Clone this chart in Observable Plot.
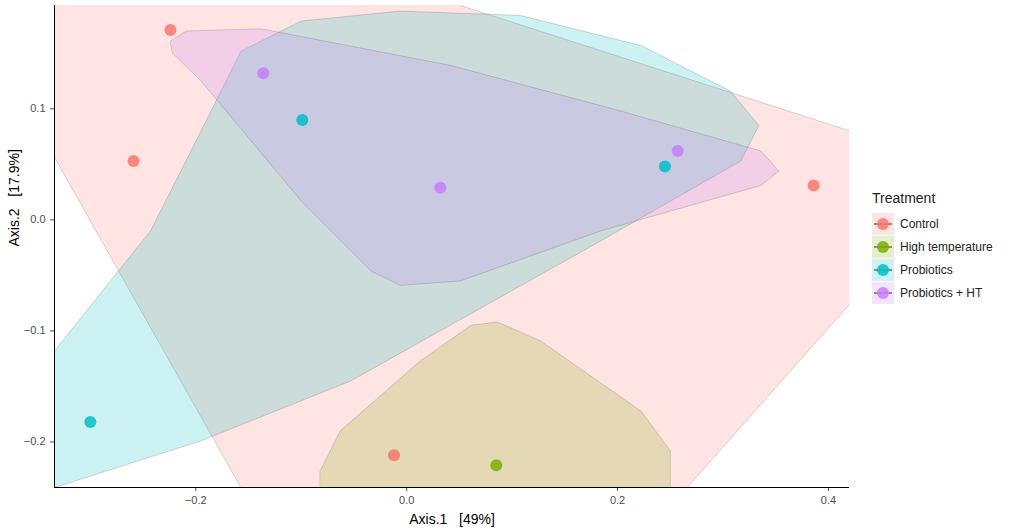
<!DOCTYPE html>
<html><head><meta charset="utf-8">
<script src="https://cdn.jsdelivr.net/npm/d3@7"></script>
<script src="https://cdn.jsdelivr.net/npm/@observablehq/plot@0.6"></script>
<style>
body{margin:0;font-family:"Liberation Sans",Arial,sans-serif;background:#fff}
#wrap{position:relative;width:1013px;height:531px}
#legend{position:absolute;left:872px;top:190px;font-size:12px;color:#222}
#legend .t{font-size:14px;margin-bottom:6px}
#legend .row{display:flex;align-items:center;height:23px}
#legend svg{margin-right:6px}
</style></head><body>
<div id="wrap"><div id="chart"></div><div id="legend"></div></div>
<script>
const groups = ['Control', 'High temperature', 'Probiotics', 'Probiotics + HT']
const colors = ['#F8766D', '#7CAE00', '#00BFC4', '#C77CFF']

// sample points (Axis.1, Axis.2)
const controlPts = [[-0.224, 0.171], [-0.259, 0.053], [0.386, 0.031], [-0.012, -0.212]]
const htPts = [[0.085, -0.221]]
const probPts = [[-0.099, 0.090], [0.245, 0.048], [-0.300, -0.182]]
const probHtPts = [[-0.136, 0.132], [0.257, 0.062], [0.032, 0.029]]

// ellipse outlines
const controlHull = [[0.051,0.193],[0.45,0.071],[0.45,-0.044],[0.239,-0.27],[-0.14,-0.27],[-0.36,0.10],[-0.36,0.22],[0.03,0.22]]
const probHull = [[-0.334,-0.118],[-0.243,-0.010],[-0.195,0.080],[-0.157,0.152],[-0.100,0.179],[-0.006,0.188],[0.108,0.184],[0.222,0.157],[0.307,0.116],[0.334,0.085],[0.317,0.053],[0.184,-0.019],[-0.053,-0.145],[-0.195,-0.199],[-0.334,-0.241],[-0.36,-0.26],[-0.36,-0.13]]
const probHtHull = [[-0.224,0.161],[-0.209,0.170],[-0.138,0.172],[0.042,0.139],[0.203,0.098],[0.336,0.062],[0.353,0.044],[0.336,0.031],[0.184,-0.010],[0.051,-0.055],[-0.006,-0.059],[-0.034,-0.046],[-0.100,0.017],[-0.195,0.125],[-0.222,0.150]]
const htHull = [[-0.082,-0.226],[-0.063,-0.190],[0.013,-0.127],[0.061,-0.095],[0.086,-0.092],[0.127,-0.109],[0.222,-0.172],[0.250,-0.208],[0.250,-0.253],[-0.082,-0.253]]

const hulls = [controlHull, htHull, probHull, probHtHull]
const pts = [controlPts, htPts, probPts, probHtPts]
const hullData = hulls.flatMap((h, i) => h.map(([x, y]) => ({x, y, g: groups[i]})))
const ptData = pts.flatMap((p, i) => p.map(([x, y]) => ({x, y, g: groups[i]})))

const fmt = d => d === 0 ? '0.0' : d3.format('.1f')(d)

const chart = Plot.plot({
  width: 860, height: 531,
  marginLeft: 54, marginRight: 11, marginTop: 5, marginBottom: 44,
  style: {fontFamily: 'Liberation Sans, Arial, sans-serif', fontSize: '11px', color: '#4d4d4d'},
  x: {domain: [-0.334, 0.42], ticks: [-0.2, 0, 0.2, 0.4], tickFormat: fmt, label: null, tickSize: 4},
  y: {domain: [-0.241, 0.193], ticks: [-0.2, -0.1, 0, 0.1], tickFormat: fmt, label: null, tickSize: 4},
  color: {domain: groups, range: colors},
  marks: [
    Plot.line(hullData, {x: 'x', y: 'y', z: 'g', fill: 'g', fillOpacity: 0.2, stroke: '#555', strokeWidth: 0.4, strokeOpacity: 0.6, clip: true, curve: 'linear-closed'}),
    Plot.dot(ptData, {x: 'x', y: 'y', fill: 'g', r: 6, fillOpacity: 0.85}),
    Plot.ruleX([-0.334], {stroke: '#000'}),
    Plot.ruleY([-0.241], {stroke: '#000'}),
    Plot.text(['Axis.1   [49%]'], {frameAnchor: 'bottom', dy: 36, fontSize: 14, fill: '#000'}),
    Plot.text(['Axis.2   [17.9%]'], {frameAnchor: 'left', dx: -40, rotate: -90, fontSize: 14, fill: '#000'})
  ]
})
d3.select('#chart').append(() => chart)

const lg = d3.select('#legend')
lg.append('div').attr('class', 't').text('Treatment')
groups.forEach((g, i) => {
  const row = lg.append('div').attr('class', 'row')
  const s = row.append('svg').attr('width', 22).attr('height', 22)
  s.append('rect').attr('width', 22).attr('height', 22).attr('fill', colors[i]).attr('fill-opacity', 0.2)
  s.append('line').attr('x1', 2).attr('x2', 20).attr('y1', 11).attr('y2', 11).attr('stroke', '#000').attr('stroke-width', 0.8)
  s.append('circle').attr('cx', 11).attr('cy', 11).attr('r', 6).attr('fill', colors[i]).attr('fill-opacity', 0.85)
  row.append('span').text(g)
})
</script></body></html>
